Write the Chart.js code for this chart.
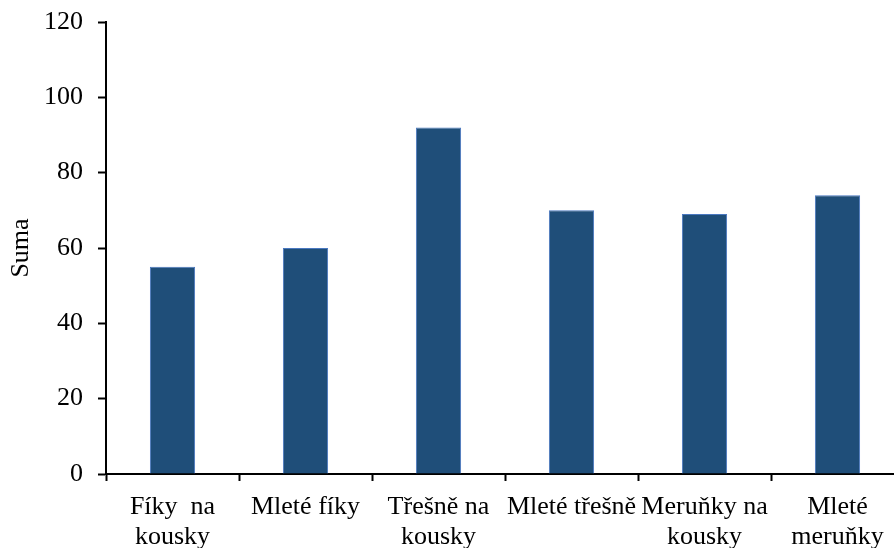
<!DOCTYPE html>
<html>
<head>
<meta charset="utf-8">
<script src="https://cdn.jsdelivr.net/npm/chart.js@4/dist/chart.umd.min.js"></script>
<style>
  html, body { margin: 0; padding: 0; background: #fff; overflow: hidden; }
  #wrap { width: 904px; height: 548px; }
</style>
</head>
<body>
<div id="wrap"><canvas id="graf"></canvas></div>
<script>
// data
var kategorie = [
  ['Fíky  na', 'kousky'],
  'Mleté fíky',
  ['Třešně na', 'kousky'],
  'Mleté třešně',
  ['Meruňky na', 'kousky'],
  ['Mleté', 'meruňky']
];
var suma = [55, 60, 92, 70, 69, 74];
var osaY = { min: 0, max: 120, krok: 20 };

var pismo = "'Liberation Serif', 'Times New Roman', serif";

var ctx = document.getElementById('graf').getContext('2d');
var graf = new Chart(ctx, {
  type: 'bar',
  data: {
    labels: kategorie,
    datasets: [{
      label: 'Suma',
      data: suma,
      backgroundColor: '#1F4E79',
      borderColor: '#4A78C0',
      borderWidth: 1,
      categoryPercentage: 1,
      barPercentage: 0.34
    }]
  },
  options: {
    responsive: true,
    maintainAspectRatio: false,
    animation: false,
    layout: { padding: { top: 22, right: 0, bottom: 0, left: 0 } },
    plugins: {
      legend: { display: false },
      tooltip: { enabled: false }
    },
    scales: {
      x: {
        offset: true,
        grid: {
          display: true,
          drawOnChartArea: false,
          drawTicks: true,
          tickLength: 7,
          tickWidth: 2,
          color: '#000',
          offset: true
        },
        border: { display: true, color: '#000', width: 2 },
        ticks: {
          color: '#000',
          maxRotation: 0,
          autoSkip: false,
          padding: 11,
          font: { family: pismo, size: 26, lineHeight: 1.15 }
        },
        afterFit: function (s) { s.height = 74; s.paddingLeft = 0; s.paddingRight = 0; }
      },
      y: {
        min: osaY.min,
        max: osaY.max,
        ticks: {
          stepSize: osaY.krok,
          color: '#000',
          padding: 15,
          font: { family: pismo, size: 26 }
        },
        grid: {
          display: true,
          drawOnChartArea: false,
          drawTicks: true,
          tickLength: 8,
          tickWidth: 2,
          color: '#000'
        },
        border: { display: true, color: '#000', width: 2 },
        title: {
          display: true,
          text: 'Suma',
          color: '#000',
          padding: { top: 6, bottom: 0 },
          font: { family: pismo, size: 26 }
        },
        afterFit: function (s) { s.width = 106; s.paddingTop = 0; s.paddingBottom = 0; }
      }
    }
  }
});
</script>
</body>
</html>
